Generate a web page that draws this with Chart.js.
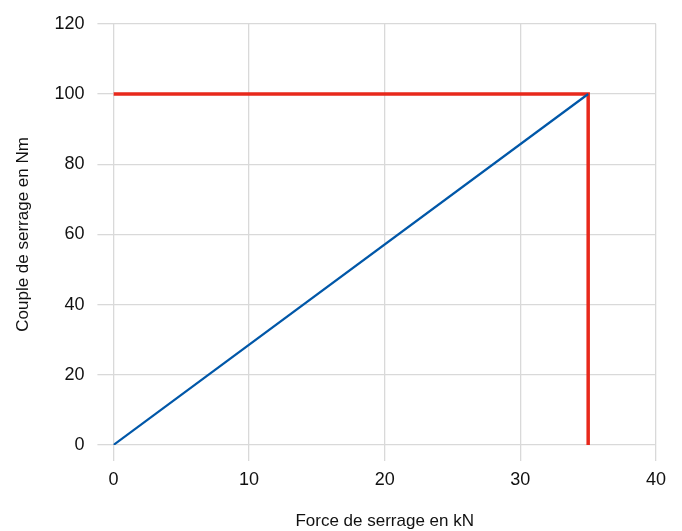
<!DOCTYPE html>
<html>
<head>
<meta charset="utf-8">
<script src="https://cdn.jsdelivr.net/npm/chart.js@4/dist/chart.umd.min.js"></script>
<style>
  html, body { margin: 0; padding: 0; background: #fff; }
  #wrap { width: 682px; height: 531px; }
</style>
</head>
<body>
<div id="wrap"><canvas id="chart"></canvas></div>
<script>
// data
const forceKN = [0, 35];
const coupleNm = [0, 100];
const limitX = [0, 35, 35];
const limitY = [100, 100, 0];
const xTicks = [0, 10, 20, 30, 40];
const yTicks = [0, 20, 40, 60, 80, 100, 120];

const FONT = "'Liberation Sans Narrow', 'Arial Narrow', 'Liberation Sans', sans-serif";

function pts(xs, ys) {
  return xs.map((x, i) => ({ x: x, y: ys[i] }));
}

new Chart(document.getElementById('chart'), {
  type: 'scatter',
  data: {
    datasets: [
      {
        data: pts(forceKN, coupleNm),
        showLine: true,
        borderColor: '#0057a8',
        borderWidth: 2.2,
        pointRadius: 0,
        tension: 0
      },
      {
        data: pts(limitX, limitY),
        showLine: true,
        borderColor: '#e8291c',
        borderWidth: 3.5,
        pointRadius: 0,
        tension: 0
      }
    ]
  },
  options: {
    responsive: true,
    maintainAspectRatio: false,
    animation: false,
    layout: { padding: { top: 12, right: 26, left: 9, bottom: -5 } },
    plugins: { legend: { display: false }, tooltip: { enabled: false } },
    scales: {
      x: {
        type: 'linear',
        min: 0, max: 40,
        afterBuildTicks: s => { s.ticks = xTicks.map(v => ({ value: v })); },
        grid: { color: '#d9d9d9', lineWidth: 1.3, tickLength: 16 },
        border: { display: false },
        ticks: { color: '#111', font: { family: FONT, size: 18 }, padding: 8 },
        title: { display: true, text: 'Force de serrage en kN', color: '#111',
                 font: { family: FONT, size: 17 }, padding: { top: 13 } }
      },
      y: {
        type: 'linear',
        min: 0, max: 120,
        afterBuildTicks: s => { s.ticks = yTicks.map(v => ({ value: v })); },
        grid: { color: '#d9d9d9', lineWidth: 1.3, tickLength: 16 },
        border: { display: false },
        ticks: { color: '#111', font: { family: FONT, size: 18 }, padding: 13 },
        title: { display: true, text: 'Couple de serrage en Nm', color: '#111',
                 font: { family: FONT, size: 17 }, padding: { bottom: 8 } }
      }
    }
  }
});
</script>
</body>
</html>
